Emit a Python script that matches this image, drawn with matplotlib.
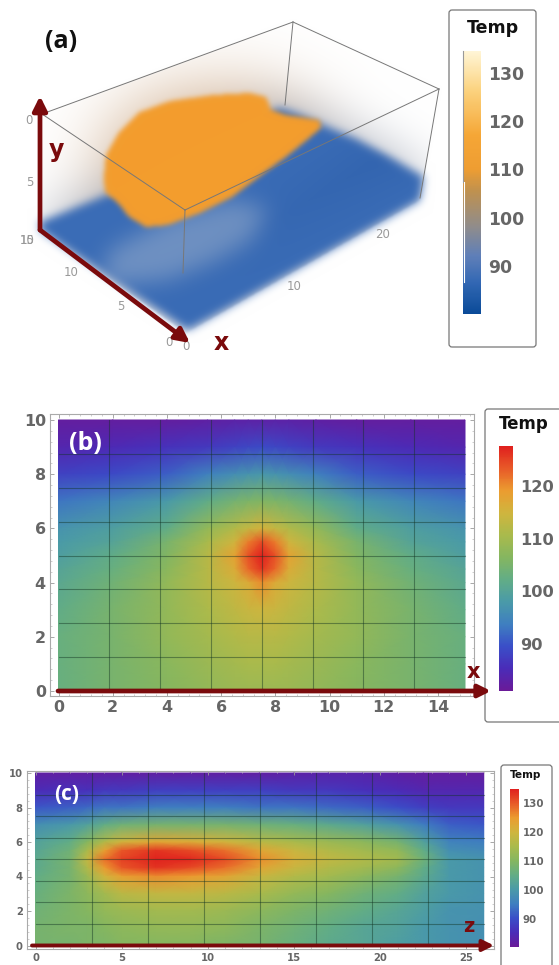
#!/usr/bin/env python3
import numpy as np
import matplotlib
matplotlib.use('Agg')
import matplotlib.pyplot as plt
from matplotlib.cm import ScalarMappable
from matplotlib.colors import LinearSegmentedColormap, Normalize
from matplotlib.patches import FancyBboxPatch
from matplotlib.path import Path
from matplotlib.ticker import MultipleLocator

W, H = 559, 965
DARKRED = '#7a0a0c'
GREY = '#666666'

# panel (b): temperature, rows from y=10 down to y=0
b_x = [0, 2, 4, 5.5, 6.5, 7, 7.5, 8, 8.5, 9.5, 11, 13, 15]
b_y = [10, 9, 8, 7, 6, 5.5, 5, 4.5, 4, 3, 2, 1, 0]
b_temp = [
    [82, 82, 82, 82.5, 83, 83, 83, 83, 83, 82.5, 82, 82, 82],
    [84, 85, 86, 87, 88, 88.5, 89, 88.5, 88, 87, 86, 85, 84],
    [88, 89, 91, 94, 96, 97, 97.5, 97, 96, 94, 91, 89, 88],
    [93, 95, 98, 102, 104.5, 105.5, 106, 105.5, 104.5, 102, 98, 95, 93],
    [97, 99, 102, 108, 111.5, 113.5, 115.5, 113.5, 111.5, 108, 102, 99, 97],
    [98, 100, 105, 110.5, 115, 121, 124.5, 121, 115, 110.5, 105, 100, 98],
    [99, 102, 106, 112, 118, 124, 127.5, 124, 118, 112, 106, 102, 99],
    [100, 103, 107, 112, 116.5, 122.5, 126, 122.5, 116.5, 112, 107, 103, 100],
    [101, 104, 108, 112, 114.5, 116.5, 120, 116.5, 114.5, 112, 108, 104, 101],
    [102, 105, 108, 111, 113, 114, 114.5, 114, 113, 111, 108, 105, 102],
    [103, 105, 108, 110, 111.5, 112, 112, 112, 111.5, 110, 108, 105, 103],
    [103, 105, 107, 109, 110, 110.5, 110.5, 110.5, 110, 109, 107, 105, 103],
    [103, 105, 106.5, 108, 109, 109, 109, 109, 109, 108, 106.5, 105, 103],
]

# panel (c)
c_z = [0, 2, 3, 4, 5, 7, 9, 11, 13, 15, 17, 19, 21, 22.5, 24, 26]
c_y = [10, 9, 8, 7, 6, 5.5, 5, 4.5, 4, 3, 2, 1, 0]
c_temp = [
    [82, 82, 82, 82, 82, 82, 82, 82, 82, 82.5, 83, 83, 82, 81.5, 81.5, 81.5],
    [85, 86, 86, 87, 87, 88, 88, 88, 88, 87, 87, 86, 85, 84, 84, 84],
    [91, 92, 93, 94, 94, 95, 95, 95, 94, 94, 93, 92, 90, 88, 87, 87],
    [98, 100, 102, 105, 107, 108, 108, 108, 107, 106, 104, 102, 99, 95, 92, 91],
    [102, 105, 110, 116, 120, 123, 122, 120, 117, 115, 113, 111, 108, 102, 96, 95],
    [103, 107, 115, 124, 130, 133, 131, 128, 123, 119, 116, 114, 112, 105, 98, 97],
    [104, 108, 118, 128, 132, 134.5, 134, 131, 126, 121, 118, 116, 114, 107, 100, 99],
    [104, 108, 116, 125, 130, 133, 131, 128, 123, 119, 116, 114, 111, 105, 100, 99],
    [105, 108, 113, 120, 124, 126, 125, 123, 119, 116, 114, 111, 108, 104, 100, 99],
    [106, 109, 111, 114, 117, 118, 118, 117, 115, 112, 110, 107, 105, 102, 100, 99],
    [107, 109, 110, 112, 113, 114, 114, 113, 111, 109, 107, 105, 103, 101, 99, 98.5],
    [108, 109, 109, 110, 111, 112, 112, 111, 109, 107, 105, 103, 102, 100, 99, 98],
    [108, 108, 109, 109, 110, 110, 110, 109, 108, 106, 104, 103, 101, 100, 99, 98],
]

# panel (a): outlines of the rendered volume, in pixels of the picture
blob_x = [104, 106, 118, 140, 170, 214, 250, 266, 271, 286, 307, 320, 321, 307, 286, 264, 232, 200, 168, 146, 129, 118, 105]
blob_y = [177, 155, 134, 112, 101, 95, 93, 97, 110, 115, 118, 120, 128, 140, 157, 173, 197, 213, 225, 227, 217, 203, 192]
floor_x = [40, 107, 279, 300, 357, 423, 420, 188, 40]
floor_y = [222, 195, 108, 115, 140, 177, 200, 330, 230]
patch_x = [110, 171, 232, 268, 252, 214, 168, 100]
patch_y = [250, 218, 200, 208, 240, 262, 280, 285]
box_x = [42, 293, 439, 420, 186, 40]
box_y = [114, 22, 89, 200, 333, 230]

cmap_rainbow = LinearSegmentedColormap.from_list('rainbow_temp', [
    '#6a1a98', '#4a2cb8', '#3a4fc8', '#3f7fc0', '#4a9aa8', '#62ad86', '#85b660',
    '#a9ba4c', '#cfb53e', '#eb9c30', '#e85a28', '#e0201e'])
cmap_a = LinearSegmentedColormap.from_list('volume_temp', [
    (0.0, '#0a4a98'), (0.12, '#3368b4'), (0.22, '#5f7fb8'), (0.33, '#8f8c8c'),
    (0.47, '#c0914e'), (0.55, '#ee9d32'), (0.68, '#f5a636'), (0.85, '#fbd27e'),
    (1.0, '#fff5d6')])


def px_axes(fig, left, top, right, bottom, **kw):
    return fig.add_axes([left / W, 1 - bottom / H, (right - left) / W, (bottom - top) / H], **kw)


def blur(a, sigma):
    r = int(3 * sigma)
    k = np.exp(-0.5 * (np.arange(-r, r + 1) / sigma) ** 2)
    k /= k.sum()
    a = np.apply_along_axis(lambda m: np.convolve(m, k, mode='same'), 0, a)
    return np.apply_along_axis(lambda m: np.convolve(m, k, mode='same'), 1, a)


def heatmap(fig, frame, x0, xs, ys0, ys, xs_t, y_t, temp, xs_nodes, ys_nodes, vmin, vmax, size, xstep):
    # frame in pixels; x0,xs = pixel of 0 and px per unit, same for y
    ax = px_axes(fig, *frame)
    ax.set_xlim((frame[0] - x0) / xs, (frame[2] - x0) / xs)
    ax.set_ylim((ys0 - frame[3]) / ys, (ys0 - frame[1]) / ys)
    ax.pcolormesh(xs_nodes, ys_nodes, np.array(temp), shading='gouraud',
                  cmap=cmap_rainbow, norm=Normalize(vmin, vmax), rasterized=True)
    for v in np.linspace(0, xs_nodes[-1], 9)[1:-1]:
        ax.plot([v, v], [0, 10], color='#113322', lw=0.8, alpha=0.45)
    for v in np.arange(1.25, 10, 1.25):
        ax.plot([0, xs_nodes[-1]], [v, v], color='#113322', lw=0.8, alpha=0.45)
    ax.set_xticks(xs_t)
    ax.set_yticks(y_t)
    ax.xaxis.set_minor_locator(MultipleLocator(xstep))
    ax.yaxis.set_minor_locator(MultipleLocator(0.4))
    ax.tick_params(which='major', direction='in', length=3, width=0.6, color='#999999',
                   top=True, right=True, labelsize=size, labelcolor=GREY, pad=3)
    ax.tick_params(which='minor', direction='in', length=1.5, width=0.5, color='#bbbbbb',
                   top=True, right=True)
    for lab in ax.get_xticklabels() + ax.get_yticklabels():
        lab.set_fontweight('bold')
    for s in ax.spines.values():
        s.set_color('#aaaaaa')
        s.set_linewidth(0.8)
    return ax


def colorbar(fig, box, cmap, vmin, vmax, ticks, size, pad):
    cax = px_axes(fig, *box)
    cb = fig.colorbar(ScalarMappable(Normalize(vmin, vmax), cmap), cax=cax)
    cb.set_ticks(ticks)
    cb.outline.set_visible(False)
    cax.tick_params(length=0, labelsize=size, labelcolor=GREY, pad=pad)
    for lab in cax.get_yticklabels():
        lab.set_fontweight('bold')
    return cb


fig = plt.figure(figsize=(W / 100, H / 100), dpi=100, facecolor='white')

# background layer, pixel coordinates
bg = fig.add_axes([0, 0, 1, 1], zorder=-1)
bg.set_xlim(0, W)
bg.set_ylim(H, 0)
bg.axis('off')

# panel (a) volume, composited by hand over white
gx, gy = np.meshgrid(np.arange(0, 450) + 0.5, np.arange(0, 360) + 0.5)
pts = np.column_stack([gx.ravel(), gy.ravel()])


def mask(xs, ys):
    return Path(np.column_stack([xs, ys])).contains_points(pts).reshape(gx.shape).astype(float)


def over(img, color, alpha):
    c = np.array(matplotlib.colors.to_rgb(color))
    return img * (1 - alpha[..., None]) + c * alpha[..., None]


box_m = blur(mask(box_x, box_y), 1)
floor_m = blur(mask(floor_x, floor_y), 4.5)
blob_m = blur(mask(blob_x, blob_y), 2.5)
patch_m = blur(mask(patch_x, patch_y), 11)

img = np.ones(gx.shape + (3,))
img = over(img, '#c8a07a', np.clip(0.95 * blur(mask(blob_x, blob_y), 38), 0, 0.75) * box_m)
img = over(img, '#8f97a8', np.clip(0.85 * blur(mask(floor_x, floor_y), 26), 0, 0.8) * box_m)
img = over(img, '#3a6cb6', floor_m)
depth = np.clip((gx - 120) / 300, 0, 1) * np.clip(1 - np.abs(gy - 0.58 * (430 - gx) - 130) / 60, 0, 1)
img = over(img, '#2a5ca8', 0.5 * depth * floor_m)
img = over(img, '#c5cdd6', 0.38 * patch_m * floor_m)
img = over(img, '#f39d2e', blob_m)
bg.imshow(img, extent=(0, 450, 360, 0), interpolation='bilinear', aspect='auto', zorder=1)
bg.set_xlim(0, W)
bg.set_ylim(H, 0)

# wireframe of the box
for p, q in [((42, 114), (293, 22)), ((293, 22), (439, 89)), ((439, 89), (185, 210)),
             ((185, 210), (42, 114)), ((439, 89), (420, 198)), ((293, 22), (285, 105)),
             ((185, 210), (183, 273))]:
    bg.plot([p[0], q[0]], [p[1], q[1]], color='#777777', lw=0.7, zorder=2)

# a-panel tick labels
for x, y, s in [(29, 121, '0'), (30, 182, '5'), (27, 241, '15'), (27, 241, '10'),
                (71, 272, '10'), (121, 306, '5'), (169, 343, '0'), (186, 346, '0'),
                (294, 286, '10'), (383, 234, '20')]:
    bg.text(x, y, s, color='#999999', fontsize=8.5, ha='center', va='center', zorder=3)

# legend boxes
for x0, y0, x1, y1 in [(449, 10, 536, 347), (485, 409, 575, 722), (501, 765, 552, 985)]:
    bg.add_patch(FancyBboxPatch((x0 + 3, y0 + 3), x1 - x0 - 6, y1 - y0 - 6, boxstyle='round,pad=3',
                                fc='white', ec='#777777', lw=0.9, zorder=1))
bg.text(493, 28, 'Temp', fontsize=12.5, fontweight='bold', color='#111111', ha='center', va='center')
bg.text(524, 424, 'Temp', fontsize=12, fontweight='bold', color='#111111', ha='center', va='center')
bg.text(526, 775, 'Temp', fontsize=7.6, fontweight='bold', color='#111111', ha='center', va='center')

# panel (b)
heatmap(fig, (50, 414, 474, 696), 58.5, 27.1, 691, 27.1, range(0, 15, 2), range(0, 11, 2),
        b_temp, b_x, b_y, 81, 127.6, 11.4, 0.4)
# panel (c)
heatmap(fig, (27, 771, 494, 949), 35.5, 17.24, 945.5, 17.25, range(0, 26, 5), range(0, 11, 2),
        c_temp, c_z, c_y, 80.3, 134.8, 7.2, 1)

# colorbars
colorbar(fig, (463, 51, 481, 314), cmap_a, 80, 134.6, [90, 100, 110, 120, 130], 12.4, 5)
colorbar(fig, (499, 446, 513, 691), cmap_rainbow, 81, 127.6, [90, 100, 110, 120], 11.7, 5)
colorbar(fig, (510, 789, 518.5, 947), cmap_rainbow, 80.3, 134.8, [90, 100, 110, 120, 130], 7.4, 3)

# overlay layer for axes arrows and labels
top = fig.add_axes([0, 0, 1, 1], zorder=10)
top.set_xlim(0, W)
top.set_ylim(H, 0)
top.axis('off')
top.patch.set_alpha(0)

# rough edge of the volume colorbar
top.plot([463, 463], [51, 182], color='#999999', lw=0.8)
top.plot([463.5, 463.5], [182, 282], color='white', lw=0.8)


def arrow(p, q, lw, scale):
    top.annotate('', xy=q, xytext=p, arrowprops=dict(arrowstyle='-|>,head_length=0.6,head_width=0.3', color=DARKRED,
                                                     lw=lw, shrinkA=0, shrinkB=0, mutation_scale=scale))


arrow((40, 230), (40, 96), 3.4, 14)
arrow((40, 230), (190, 343), 3.4, 14)
arrow((58, 691), (491, 691), 3.4, 12)
arrow((32, 945.5), (494, 945.5), 2.8, 11)
top.text(56, 150, 'y', color=DARKRED, fontsize=17, fontweight='bold', ha='center', va='center')
top.text(221, 343, 'x', color=DARKRED, fontsize=17, fontweight='bold', ha='center', va='center')
top.text(473, 672, 'x', color=DARKRED, fontsize=15, fontweight='bold', ha='center', va='center')
top.text(469, 927, 'z', color=DARKRED, fontsize=14, fontweight='bold', ha='center', va='center')
top.text(61, 42, '(a)', color='#111111', fontsize=18, family='Open Sans', fontweight='bold', ha='center', va='center')
top.text(85, 443, '(b)', color='white', fontsize=18, family='Open Sans', fontweight='bold', ha='center', va='center')
top.text(67, 794, '(c)', color='white', fontsize=15, family='Open Sans', fontweight='bold', ha='center', va='center')

fig.savefig('out.png', dpi=100)
